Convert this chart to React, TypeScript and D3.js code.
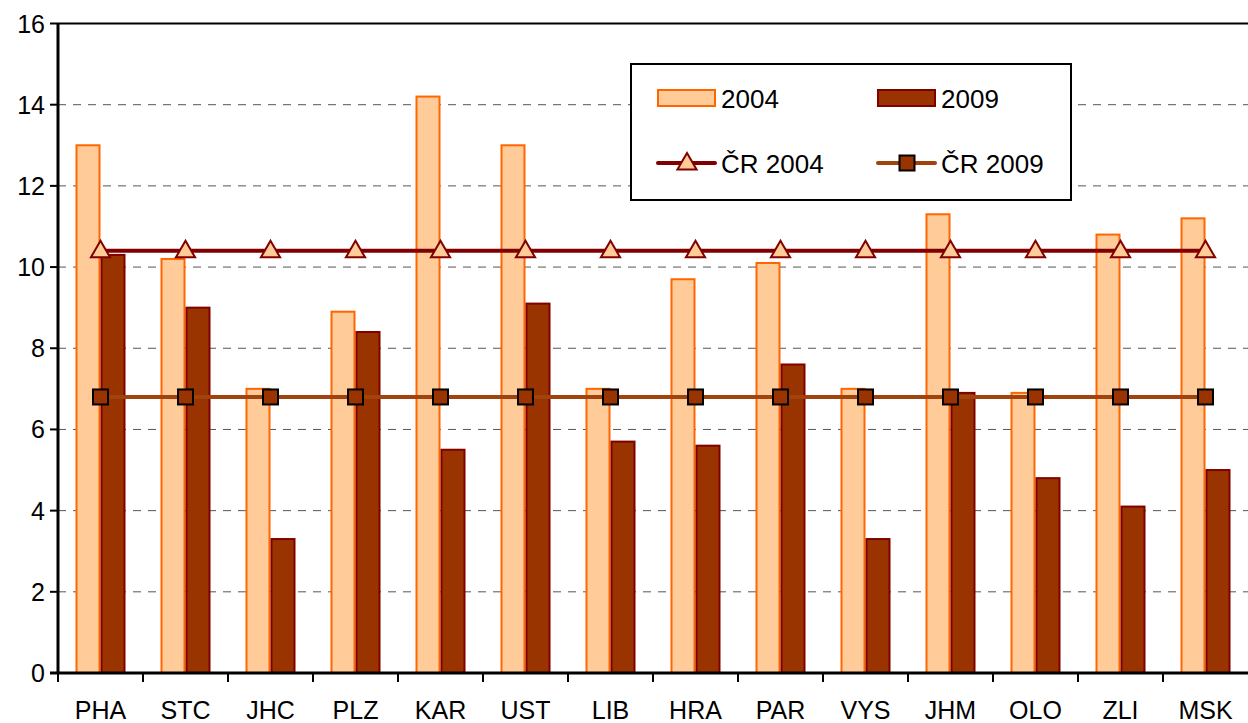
import { useRef, useEffect } from "react";
import * as d3 from "d3";

const regions = ["PHA", "STC", "JHC", "PLZ", "KAR", "UST", "LIB", "HRA", "PAR", "VYS", "JHM", "OLO", "ZLI", "MSK"];
const values2004 = [13, 10.2, 7, 8.9, 14.2, 13, 7, 9.7, 10.1, 7, 11.3, 6.9, 10.8, 11.2];
const values2009 = [10.3, 9, 3.3, 8.4, 5.5, 9.1, 5.7, 5.6, 7.6, 3.3, 6.9, 4.8, 4.1, 5.0];
const cr2004 = 10.4;
const cr2009 = 6.8;
const yTicks = [0, 2, 4, 6, 8, 10, 12, 14, 16];

export default function App() {
  const svgRef = useRef<SVGSVGElement>(null);

  useEffect(() => {
    if (!svgRef.current) return;
    const svg = d3.select(svgRef.current);
    svg.selectAll("*").remove();
    const font = "'Liberation Sans', Arial, sans-serif";
    const left = 58, right = 1248, top = 23.5, bottom = 673;

    const x = d3.scaleBand<string>().domain(regions).range([left, right]);
    const sub = d3.scaleBand<string>().domain(["2004", "2009"]).range([0, 50]);
    const y = d3.scaleLinear().domain([0, 16]).range([bottom, top]);
    const off = (x.bandwidth() - 50) / 2;

    // grid
    svg.append("g")
      .selectAll("line")
      .data(yTicks.filter((t) => t > 0 && t < 16))
      .enter()
      .append("line")
      .attr("x1", left).attr("x2", right)
      .attr("y1", (d) => y(d)).attr("y2", (d) => y(d))
      .attr("stroke", "#555")
      .attr("stroke-width", 1)
      .attr("stroke-dasharray", "8,7");

    // top border
    svg.append("line")
      .attr("x1", left).attr("x2", right)
      .attr("y1", y(16)).attr("y2", y(16))
      .attr("stroke", "#000").attr("stroke-width", 2);

    // bars
    const series = [
      { key: "2004", vals: values2004, fill: "#FFCC99", stroke: "#FF6600" },
      { key: "2009", vals: values2009, fill: "#993300", stroke: "#800000" },
    ];
    series.forEach((s) => {
      svg.append("g")
        .selectAll("rect")
        .data(regions)
        .enter()
        .append("rect")
        .attr("x", (d) => (x(d) as number) + off + (sub(s.key) as number) + 1)
        .attr("width", sub.bandwidth() - 2)
        .attr("y", (d, i) => y(s.vals[i]))
        .attr("height", (d, i) => bottom - y(s.vals[i]))
        .attr("fill", s.fill)
        .attr("stroke", s.stroke)
        .attr("stroke-width", 2);
    });

    const cx = (d: string) => (x(d) as number) + x.bandwidth() / 2;
    const lineGen = d3.line<string>().x(cx);

    // ČR 2004 line
    svg.append("path")
      .attr("d", lineGen.y(() => y(cr2004))(regions))
      .attr("fill", "none").attr("stroke", "#800000").attr("stroke-width", 4);
    const tri = d3.symbol().type(d3.symbolTriangle).size(160);
    svg.append("g")
      .selectAll("path")
      .data(regions)
      .enter()
      .append("path")
      .attr("d", tri)
      .attr("transform", (d) => `translate(${cx(d)},${y(cr2004) + 1})`)
      .attr("fill", "#FFCC99").attr("stroke", "#800000").attr("stroke-width", 2);

    // ČR 2009 line
    svg.append("path")
      .attr("d", lineGen.y(() => y(cr2009))(regions))
      .attr("fill", "none").attr("stroke", "#A0430F").attr("stroke-width", 4);
    svg.append("g")
      .selectAll("rect")
      .data(regions)
      .enter()
      .append("rect")
      .attr("x", (d) => cx(d) - 7.5).attr("y", y(cr2009) - 7.5)
      .attr("width", 15).attr("height", 15)
      .attr("fill", "#993300").attr("stroke", "#000").attr("stroke-width", 2);

    // axes
    svg.append("line")
      .attr("x1", left).attr("x2", left).attr("y1", top).attr("y2", bottom)
      .attr("stroke", "#000").attr("stroke-width", 3);
    svg.append("line")
      .attr("x1", left - 8).attr("x2", right).attr("y1", bottom).attr("y2", bottom)
      .attr("stroke", "#000").attr("stroke-width", 3);
    const yg = svg.append("g");
    yTicks.forEach((t) => {
      yg.append("line")
        .attr("x1", left - 8).attr("x2", left).attr("y1", y(t)).attr("y2", y(t))
        .attr("stroke", "#000").attr("stroke-width", 2);
      yg.append("text")
        .attr("x", left - 13).attr("y", y(t) + 9)
        .attr("text-anchor", "end")
        .attr("font-family", font).attr("font-size", 25)
        .text(t);
    });
    const xg = svg.append("g");
    regions.forEach((r) => {
      xg.append("line")
        .attr("x1", x(r) as number).attr("x2", x(r) as number)
        .attr("y1", bottom).attr("y2", bottom + 9)
        .attr("stroke", "#000").attr("stroke-width", 2);
      xg.append("text")
        .attr("x", cx(r)).attr("y", bottom + 46)
        .attr("text-anchor", "middle")
        .attr("font-family", font).attr("font-size", 25)
        .text(r);
    });

    // legend
    const lg = svg.append("g");
    lg.append("rect")
      .attr("x", 631).attr("y", 64).attr("width", 440).attr("height", 136)
      .attr("fill", "#fff").attr("stroke", "#000").attr("stroke-width", 2);
    const items = [
      { lx: 658, label: "2004", fill: "#FFCC99", stroke: "#FF6600" },
      { lx: 878, label: "2009", fill: "#993300", stroke: "#800000" },
    ];
    items.forEach((it) => {
      lg.append("rect")
        .attr("x", it.lx).attr("y", 90).attr("width", 57).attr("height", 16)
        .attr("fill", it.fill).attr("stroke", it.stroke).attr("stroke-width", 2);
      lg.append("text")
        .attr("x", it.lx + 63).attr("y", 108)
        .attr("font-family", font).attr("font-size", 26)
        .text(it.label);
    });
    lg.append("line")
      .attr("x1", 658).attr("x2", 715).attr("y1", 163).attr("y2", 163)
      .attr("stroke", "#800000").attr("stroke-width", 4).attr("stroke-linecap", "round");
    lg.append("path")
      .attr("d", tri)
      .attr("transform", "translate(687,164)")
      .attr("fill", "#FFCC99").attr("stroke", "#800000").attr("stroke-width", 2);
    lg.append("text")
      .attr("x", 721).attr("y", 173)
      .attr("font-family", font).attr("font-size", 26)
      .text("ČR 2004");
    lg.append("line")
      .attr("x1", 878).attr("x2", 935).attr("y1", 163).attr("y2", 163)
      .attr("stroke", "#A0430F").attr("stroke-width", 4).attr("stroke-linecap", "round");
    lg.append("rect")
      .attr("x", 899.5).attr("y", 155.5).attr("width", 15).attr("height", 15)
      .attr("fill", "#993300").attr("stroke", "#000").attr("stroke-width", 2);
    lg.append("text")
      .attr("x", 941).attr("y", 173)
      .attr("font-family", font).attr("font-size", 26)
      .text("ČR 2009");
  }, []);

  return (
    <svg
      ref={svgRef}
      width={1248}
      height={723}
      style={{ position: "absolute", left: 0, top: 0, background: "#fff" }}
    />
  );
}
